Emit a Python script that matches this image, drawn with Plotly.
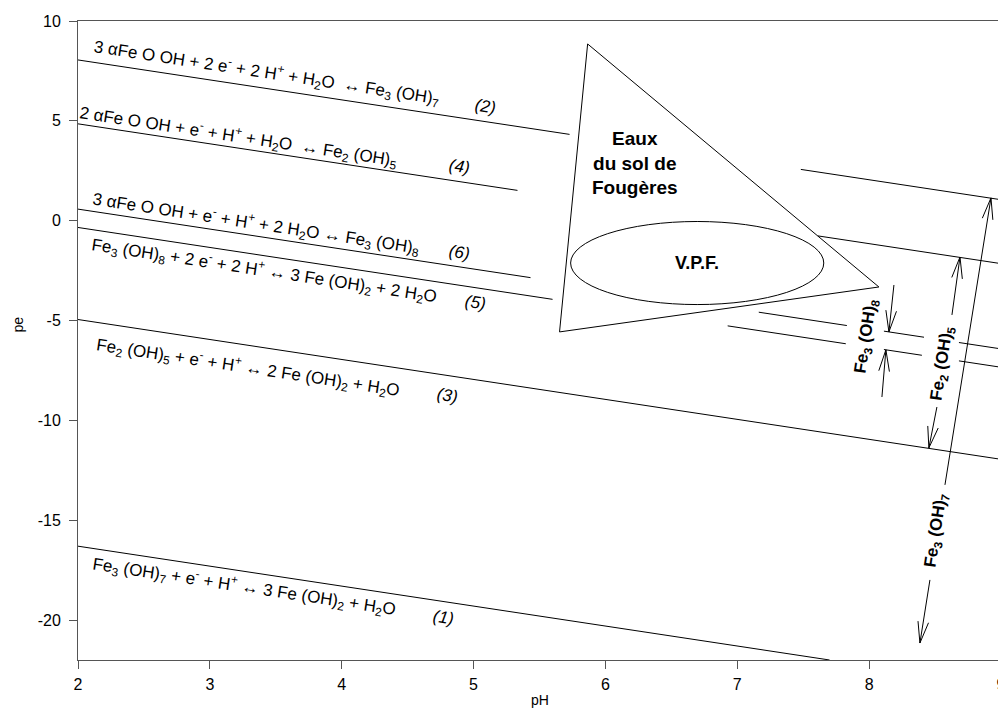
import math
import plotly.graph_objects as go

# ---------------- data ----------------
PH_RANGE = [2, 9]
PE_RANGE = [-22, 10]
x_ticks = [2, 3, 4, 5, 6, 7, 8, 9]
x_tick_labels = ["2", "3", "4", "5", "6", "7", "8", "9"]
y_ticks = [-20, -15, -10, -5, 0, 5, 10]
y_tick_labels = ["-20", "-15", "-10", "-5", "0", "5", "10"]

# boundary lines: pe = intercept - pH, drawn over the listed pH segments
line1_intercept = -14.3
line1_segments = [(2.0, 7.7)]
line2_intercept = 10.05
line2_segments = [(2.0, 5.728), (7.482, 9.0)]
line3_intercept = -2.95
line3_segments = [(2.0, 9.0)]
line4_intercept = 6.85
line4_segments = [(2.0, 5.333), (7.611, 9.0)]
line5_intercept = 1.66
line5_segments = [(2.0, 5.599), (6.927, 7.823), (8.112, 8.400), (8.681, 9.0)]
line6_intercept = 2.58
line6_segments = [(2.0, 5.432), (7.163, 7.831), (8.112, 8.416), (8.681, 9.0)]

# triangle "Eaux du sol de Fougères"
triangle_ph = [5.865, 5.652, 8.074, 5.865]
triangle_pe = [8.85, -5.57, -3.32, 8.85]

# ellipse V.P.F.
vpf_center = (6.696, -2.12)
vpf_half_axes = (0.96, 2.08)

# stability arrows: (tail pH, tail pe, tip pH, tip pe)
arrows = [
    (8.575, -13.23, 8.924, 1.14),    # Fe3(OH)7 up
    (8.461, -17.99, 8.385, -21.15),  # Fe3(OH)7 down
    (8.628, -4.72, 8.689, -1.82),    # Fe2(OH)5 up
    (8.514, -9.33, 8.453, -11.38),   # Fe2(OH)5 down
    (8.188, -3.22, 8.150, -5.57),    # Fe3(OH)8 down
    (8.097, -8.83, 8.127, -6.47),    # Fe3(OH)8 up
]

eq_labels = [
    ("3 αFe O OH + 2 e<sup>-</sup> + 2 H<sup>+</sup> + H<sub>2</sub>O  ↔ Fe<sub>3</sub> (OH)<sub>7</sub>", 3.427, 7.40),
    ("2 αFe O OH + e<sup>-</sup> + H<sup>+</sup> + H<sub>2</sub>O  ↔ Fe<sub>2</sub> (OH)<sub>5</sub>", 3.215, 4.24),
    ("3 αFe O OH + e<sup>-</sup> + H<sup>+</sup> + 2 H<sub>2</sub>O ↔ Fe<sub>3</sub> (OH)<sub>8</sub>", 3.351, -0.12),
    ("Fe<sub>3</sub> (OH)<sub>8</sub> + 2 e<sup>-</sup> + 2 H<sup>+</sup> ↔ 3 Fe (OH)<sub>2</sub> + 2 H<sub>2</sub>O", 3.412, -2.47),
    ("Fe<sub>2</sub> (OH)<sub>5</sub> + e<sup>-</sup> + H<sup>+</sup> ↔ 2 Fe (OH)<sub>2</sub> + H<sub>2</sub>O", 3.291, -7.33),
    ("Fe<sub>3</sub> (OH)<sub>7</sub> + e<sup>-</sup> + H<sup>+</sup> ↔ 3 Fe (OH)<sub>2</sub> + H<sub>2</sub>O", 3.260, -18.34),
]
num_labels = [("(2)", 5.090, 5.74), ("(4)", 4.893, 2.69), ("(6)", 4.893, -1.57),
              ("(5)", 5.014, -4.12), ("(3)", 4.802, -8.73), ("(1)", 4.771, -19.89)]
phase_labels = [
    ("Fe<sub>3</sub> (OH)<sub>8</sub>", 7.983, -5.77),
    ("Fe<sub>2</sub> (OH)<sub>5</sub>", 8.560, -7.13),
    ("Fe<sub>3</sub> (OH)<sub>7</sub>", 8.514, -15.49),
]

# ---------------- layout geometry ----------------
# the page body has an 8px margin, so the figure starts at (8, 8) in the window
W, H = 998, 703
ML, MR, MT, MB = 70, 5, 13, 51
PW, PH_ = W - ML - MR, H - MT - MB
sx = PW / (PH_RANGE[1] - PH_RANGE[0])
sy = PH_ / (PE_RANGE[1] - PE_RANGE[0])
slope_angle = math.degrees(math.atan(sy / sx))

FONT = "Liberation Sans, Arial, sans-serif"
fig = go.Figure()


def add_line(intercept, segments):
    xs, ys = [], []
    for a, b in segments:
        xs += [a, b, None]
        ys += [intercept - a, max(intercept - b, PE_RANGE[0]), None]
    fig.add_trace(go.Scatter(x=xs, y=ys, mode="lines",
                             line=dict(color="black", width=1),
                             hoverinfo="skip", showlegend=False))


for ic, seg in [(line1_intercept, line1_segments), (line2_intercept, line2_segments),
                (line3_intercept, line3_segments), (line4_intercept, line4_segments),
                (line5_intercept, line5_segments), (line6_intercept, line6_segments)]:
    add_line(ic, seg)

fig.add_trace(go.Scatter(x=triangle_ph, y=triangle_pe, mode="lines",
                         line=dict(color="black", width=1),
                         hoverinfo="skip", showlegend=False))

fig.add_shape(type="circle", xref="x", yref="y",
              x0=vpf_center[0] - vpf_half_axes[0], x1=vpf_center[0] + vpf_half_axes[0],
              y0=vpf_center[1] - vpf_half_axes[1], y1=vpf_center[1] + vpf_half_axes[1],
              line=dict(color="black", width=1))

# arrows with open, narrow heads
ax_x, ax_y = [], []
HEAD_LEN, HEAD_ANG = 22, math.radians(14)
for x0, y0, x1, y1 in arrows:
    ax_x += [x0, x1, None]
    ax_y += [y0, y1, None]
    dxp, dyp = (x1 - x0) * sx, (y1 - y0) * sy
    n = math.hypot(dxp, dyp)
    ux, uy = -dxp / n, -dyp / n
    for s in (1, -1):
        c, si = math.cos(s * HEAD_ANG), math.sin(s * HEAD_ANG)
        bx, by = ux * c - uy * si, ux * si + uy * c
        ax_x += [x1 + bx * HEAD_LEN / sx, x1, None]
        ax_y += [y1 + by * HEAD_LEN / sy, y1, None]
fig.add_trace(go.Scatter(x=ax_x, y=ax_y, mode="lines",
                         line=dict(color="black", width=1),
                         hoverinfo="skip", showlegend=False))

annotations = []
for txt, x, y in eq_labels:
    annotations.append(dict(text=txt, x=x, y=y, textangle=slope_angle,
                            font=dict(size=17, family=FONT, color="black")))
for txt, x, y in num_labels:
    annotations.append(dict(text="<i>" + txt + "</i>", x=x, y=y, textangle=slope_angle,
                            font=dict(size=17, family=FONT, color="black")))
for txt, x, y in phase_labels:
    annotations.append(dict(text="<b>" + txt + "</b>", x=x, y=y, textangle=slope_angle - 90,
                            font=dict(size=17, family=FONT, color="black")))
annotations.append(dict(text="<b>Eaux<br>du sol de<br>Fougères</b>", x=6.221, y=2.89,
                        font=dict(size=19, family=FONT, color="black")))
annotations.append(dict(text="<b>V.P.F.</b>", x=vpf_center[0], y=vpf_center[1],
                        font=dict(size=18, family=FONT, color="black")))
for a in annotations:
    a.update(xref="x", yref="y", showarrow=False, xanchor="center", yanchor="middle")

# axis titles
annotations.append(dict(text="pH", xref="x", yref="paper", x=5.5, y=-40 / PH_,
                        showarrow=False, xanchor="center", yanchor="middle",
                        font=dict(size=14, family=FONT, color="black")))
annotations.append(dict(text="pe", xref="paper", yref="y", x=-60 / PW, y=-5.2,
                        textangle=-90, showarrow=False, xanchor="center", yanchor="middle",
                        font=dict(size=14, family=FONT, color="black")))

axis_common = dict(showline=True, linecolor="#555555", linewidth=1, mirror=True,
                   ticks="outside", ticklen=8, tickcolor="#555555",
                   showgrid=False, zeroline=False, automargin=False,
                   tickfont=dict(size=16, family=FONT, color="black"))
fig.update_layout(
    width=W, height=H,
    margin=dict(l=ML, r=MR, t=MT, b=MB, autoexpand=False),
    paper_bgcolor="white", plot_bgcolor="white",
    showlegend=False,
    annotations=annotations,
    xaxis=dict(range=PH_RANGE, tickvals=x_ticks, ticktext=x_tick_labels,
               ticklabelstandoff=2, **axis_common),
    yaxis=dict(range=PE_RANGE, tickvals=y_ticks, ticktext=y_tick_labels,
               ticklabelstandoff=5, **axis_common),
)

fig.write_html("out.html")
